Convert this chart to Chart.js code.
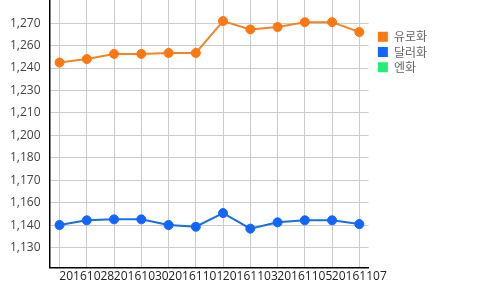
<!DOCTYPE html>
<html>
<head>
<meta charset="utf-8">
<script src="https://cdn.jsdelivr.net/npm/chart.js@4/dist/chart.umd.min.js"></script>
<style>
  html, body { margin: 0; padding: 0; background: #fff; }
  #wrap { width: 500px; height: 290px; position: relative; }
</style>
</head>
<body>
<div id="wrap"><canvas id="rate-chart"></canvas></div>
<script>
// 환율 추이 — 유로/달러/엔

const dates = ["20161027","20161028","20161029","20161030","20161031","20161101",
               "20161102","20161103","20161104","20161105","20161106","20161107"];
const euro   = [1244.9,1247.1,1250.4,1250.4,1251.0,1251.0,1271.3,1266.0,1267.5,1270.6,1270.6,1264.3];
const dollar = [1141.5,1144.5,1145.1,1145.1,1141.5,1140.4,1149.1,1139.2,1143.2,1144.5,1144.5,1142.1];
const yen    = [];

const seriesNames = ["유로화","달러화","엔화"];
const yTickValues = [1127.0,1141.3,1155.6,1169.9,1184.2,1198.5,1212.8,1227.1,1241.4,1255.7,1270.0];
const yTickLabels = ["1,130","1,140","1,160","1,170","1,180","1,200","1,210","1,230","1,240","1,260","1,270"];

const COLORS = { euro: "#ff7711", euroLine: "#f0852a", dollar: "#1166ff", dollarLine: "#1a6fe0", yen: "#22ee77" };
const AXIS_FONT = { family: "'Open Sans', sans-serif", size: 12, lineHeight: 1.2 };

function pts(arr) { return arr.map((v, i) => ({ x: i, y: v })); }

function ds(label, data, fill, line) {
  return {
    label, data: pts(data),
    backgroundColor: fill, borderColor: line, borderWidth: 2,
    pointBackgroundColor: fill, pointBorderColor: fill, pointBorderWidth: 1,
    pointRadius: 4.5, pointHoverRadius: 4.5, tension: 0,
  };
}

// legend sits a few px further right than chart.js would put it
const legendNudge = {
  id: "legendNudge",
  afterLayout(chart) { if (chart.legend) { chart.legend.left += 6; chart.legend.right += 6; } },
};

new Chart(document.getElementById("rate-chart"), {
  type: "line",
  data: {
    datasets: [
      ds(seriesNames[0], euro, COLORS.euro, COLORS.euroLine),
      ds(seriesNames[1], dollar, COLORS.dollar, COLORS.dollarLine),
      ds(seriesNames[2], yen, COLORS.yen, COLORS.yen),
    ],
  },
  plugins: [legendNudge],
  options: {
    responsive: true, maintainAspectRatio: false, animation: false,
    layout: { autoPadding: false, padding: { left: 10, right: 69, top: 0, bottom: 4 } },
    plugins: {
      tooltip: { enabled: false },
      legend: {
        position: "right", align: "start",
        title: { display: true, text: " ", font: { size: 12 }, padding: 6.5 },
        labels: {
          boxWidth: 10, boxHeight: 10, padding: 3.3, color: "#000",
          font: { family: "'Noto Sans CJK KR', sans-serif", size: 12 },
          generateLabels: (chart) => chart.data.datasets.map((d, i) => ({
            text: d.label, fillStyle: d.backgroundColor, strokeStyle: d.backgroundColor,
            lineWidth: 0, hidden: false, datasetIndex: i, pointStyle: "rect", borderRadius: 0,
          })),
        },
      },
    },
    scales: {
      x: {
        type: "linear", min: -0.366, max: 11.34,
        afterBuildTicks: (s) => { s.ticks = dates.map((_, i) => ({ value: i })); },
        ticks: {
          autoSkip: false, maxRotation: 0, padding: 2, color: "#222", font: AXIS_FONT,
          callback: (v) => (v % 2 === 1 ? dates[v] : ""),
        },
        grid: { color: "#cccccc", drawTicks: false },
        border: { color: "#000", width: 1.5 },
      },
      y: {
        min: 1114.4, max: 1284.7,
        afterBuildTicks: (s) => { s.ticks = yTickValues.map(v => ({ value: v })); },
        ticks: {
          padding: 0, color: "#444",
          font: { family: "'Open Sans', sans-serif", size: 12, lineHeight: 0 },
          callback: (v) => yTickLabels[yTickValues.indexOf(v)],
        },
        grid: { color: "#cccccc", drawTicks: true, tickLength: 9, tickColor: "rgba(0,0,0,0)" },
        border: { color: "#000", width: 1.5 },
      },
    },
  },
});
</script>
</body>
</html>
